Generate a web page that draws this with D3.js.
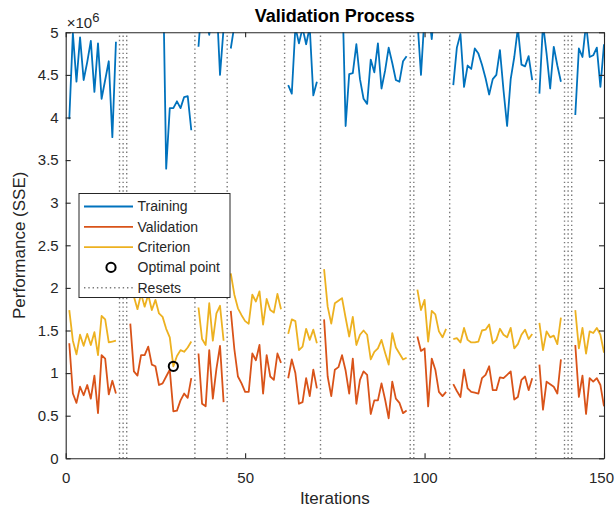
<!DOCTYPE html>
<html>
<head>
<meta charset="utf-8">
<script src="https://cdn.jsdelivr.net/npm/d3@7"></script>
<style>
  html, body { margin: 0; padding: 0; background: #ffffff; }
  svg { display: block; font-family: "Liberation Sans", Arial, Helvetica, sans-serif; }
</style>
</head>
<body>
<svg id="chart" width="615" height="511"></svg>
<script>
// Performance values are in units of 1e6 (SSE / 10^6); null marks an iteration with a reset.
const iterations = d3.range(1, 151);

const training = [
  // 1-14
  3.98, 4.99, 4.42, 4.94, 4.44, 4.65, 4.90, 4.30, 4.87, 4.22, 4.44, 4.66, 3.77, 4.89,
  null, null, null,
  // 18-35
  7.9, 7.1, 6.6, 6.9, 6.4, 6.8, 6.2, 6.5, 6.3, 6.0, 3.40, 4.11, 4.11, 4.19, 4.11, 4.24, 4.25, 3.85,
  null,
  // 37-44
  4.83, 5.4, 5.2, 4.97, 5.3, 5.4, 4.50, 5.05,
  null,
  // 46-60
  4.81, 5.08, 5.6, 5.4, 5.8, 5.5, 5.7, 5.4, 5.9, 5.6, 5.5, 5.8, 5.6, 5.4, 5.7,
  null,
  // 62-70
  4.38, 4.28, 5.06, 4.87, 5.05, 4.86, 5.06, 4.26, 4.42,
  null,
  // 72-95
  6.6, 6.1, 6.3, 5.9, 6.2, 5.65, 3.90, 4.51, 4.52, 4.86, 4.45, 4.22, 4.16, 4.68, 4.53, 4.87, 4.34, 4.55, 4.82, 4.64, 4.44, 4.42, 4.66, 4.72,
  null, null,
  // 98-106
  5.15, 4.50, 5.2, 5.3, 4.92, 5.4, 5.6, 5.3, 5.5,
  null,
  // 108-130
  4.38, 4.82, 4.98, 4.36, 4.61, 4.57, 4.81, 4.75, 4.62, 4.46, 4.27, 4.45, 4.50, 4.79, 4.32, 3.90, 4.45, 4.71, 5.05, 4.62, 4.60, 4.72, 4.44,
  null,
  // 132-138
  4.28, 5.1, 4.75, 4.34, 4.83, 4.61, 4.42,
  null, null, null,
  // 142-150
  4.03, 4.81, 4.71, 5.1, 4.71, 4.73, 4.82, 4.36, 4.86
];

const validation = [
  1.35, 0.76, 0.65, 0.84, 0.74, 0.86, 0.70, 0.97, 0.53, 1.21, 1.17, 0.75, 0.91, 0.76,
  null, null, null,
  1.58, 1.02, 0.97, 1.21, 1.21, 1.31, 1.10, 1.08, 0.86, 0.88, 0.96, 1.04, 0.55, 0.56, 0.68, 0.76, 0.71, 0.94,
  null,
  1.23, 0.64, 0.61, 1.27, 0.70, 1.05, 1.32, 0.66,
  null,
  1.73, 1.28, 0.96, 0.88, 0.78, 0.78, 1.23, 1.15, 1.33, 0.76, 1.21, 0.96, 0.92, 1.23, 1.12,
  null,
  0.94, 1.16, 1.00, 0.64, 0.66, 0.94, 0.73, 1.04, 0.82,
  null,
  1.63, 0.96, 0.73, 1.04, 1.07, 1.21, 1.03, 0.76, 1.17, 0.64, 0.92, 1.02, 0.98, 0.52, 0.68, 0.68, 0.88, 0.69, 0.47, 0.90, 0.70, 0.65, 0.53, 0.56,
  null, null,
  1.43, 1.26, 1.29, 0.61, 1.17, 1.04, 0.78, 0.73, 0.78,
  null,
  0.87, 0.79, 0.72, 1.04, 0.82, 0.78, 0.77, 0.76, 0.94, 0.98, 1.08, 0.80, 0.80, 0.95, 0.94, 0.98, 1.02, 0.69, 0.72, 0.92, 0.96, 0.80, 0.94,
  null,
  1.10, 0.57, 0.90, 0.87, 0.84, 0.76, 1.16,
  null, null, null,
  1.33, 0.72, 0.97, 0.52, 0.94, 0.90, 0.94, 0.86, 0.61
];

const criterion = [
  1.74, 1.38, 1.22, 1.45, 1.32, 1.46, 1.33, 1.48, 1.21, 1.67, 1.63, 1.36, 1.37, 1.38,
  null, null, null,
  2.08, 1.90, 1.75, 1.93, 1.78, 1.92, 1.74, 1.86, 1.70, 1.66, 1.52, 1.42, 1.08, 1.20, 1.27, 1.25, 1.30, 1.37,
  null,
  1.77, 1.40, 1.33, 1.82, 1.38, 1.70, 1.79, 1.38,
  null,
  2.17, 1.92, 1.76, 1.68, 1.61, 1.58, 1.92, 1.84, 1.96, 1.57, 1.87, 1.74, 1.71, 1.93, 1.75,
  null,
  1.46, 1.63, 1.61, 1.27, 1.31, 1.52, 1.39, 1.51, 1.35,
  null,
  2.22, 1.78, 1.58, 1.82, 1.85, 1.88, 1.65, 1.43, 1.66, 1.33, 1.45, 1.50, 1.45, 1.16, 1.25, 1.29, 1.39, 1.24, 1.10, 1.47, 1.30, 1.23, 1.16, 1.18,
  null, null,
  1.98, 1.74, 1.86, 1.37, 1.73, 1.69, 1.49, 1.42, 1.52,
  null,
  1.40, 1.41, 1.36, 1.53, 1.39, 1.36, 1.36, 1.37, 1.50, 1.51, 1.57, 1.35, 1.39, 1.52, 1.45, 1.42, 1.53, 1.29, 1.34, 1.45, 1.51, 1.40, 1.46,
  null,
  1.59, 1.27, 1.49, 1.42, 1.44, 1.34, 1.65,
  null, null, null,
  1.74, 1.29, 1.53, 1.23, 1.49, 1.47, 1.53, 1.45, 1.24
];

const resets = [15, 16, 17, 36, 45, 61, 71, 96, 97, 107, 131, 139, 140, 141];
const optimalIteration = 30;

const xTicks = [0, 50, 100, 150];
const yTicks = [0, 0.5, 1, 1.5, 2, 2.5, 3, 3.5, 4, 4.5, 5];

const seriesNames = ["Training", "Validation", "Criterion"];
const seriesColors = ["#0072BD", "#D95319", "#EDB120"];

// ---- layout ----
const plot = { left: 65.7, right: 604, top: 32.3, bottom: 458.3 };
const axisColor = "#262626";
const textColor = "#262626";
const curveWidth = 1.8;

const svg = d3.select("#chart");

const x = d3.scaleLinear().domain([0, 150]).range([plot.left, plot.right]);
const y = d3.scaleLinear().domain([0, 5]).range([plot.bottom, plot.top]);

svg.append("defs").append("clipPath").attr("id", "plot-clip")
  .append("rect")
  .attr("x", plot.left).attr("y", plot.top)
  .attr("width", plot.right - plot.left).attr("height", plot.bottom - plot.top);

const plotLayer = svg.append("g").attr("clip-path", "url(#plot-clip)");

// reset markers
plotLayer.selectAll("line.reset")
  .data(resets)
  .join("line")
  .attr("class", "reset")
  .attr("x1", d => x(d)).attr("x2", d => x(d))
  .attr("y1", y(0)).attr("y2", y(5))
  .attr("stroke", "#7a7a7a")
  .attr("stroke-width", 1.4)
  .attr("stroke-dasharray", "1.4,2.9");

// performance curves
const line = d3.line()
  .defined(d => d.v != null)
  .x(d => x(d.i))
  .y(d => y(d.v));

[training, validation, criterion].forEach((vals, k) => {
  const pts = iterations.map((i, j) => ({ i, v: vals[j] }));
  plotLayer.append("path")
    .datum(pts)
    .attr("fill", "none")
    .attr("stroke", seriesColors[k])
    .attr("stroke-width", curveWidth)
    .attr("stroke-linejoin", "round")
    .attr("d", line);
});

// optimal point on the criterion curve
svg.append("circle")
  .attr("cx", x(optimalIteration))
  .attr("cy", y(criterion[iterations.indexOf(optimalIteration)]))
  .attr("r", 4.6)
  .attr("fill", "none")
  .attr("stroke", "#000000")
  .attr("stroke-width", 2);

// ---- axes (box with inward ticks) ----
function styleAxis(g) {
  g.selectAll(".domain").attr("stroke", axisColor).attr("stroke-width", 1.1);
  g.selectAll(".tick line").attr("stroke", axisColor).attr("stroke-width", 1.1);
  g.selectAll(".tick text")
    .attr("fill", textColor)
    .style("font-size", "15px");
}

const xAxisG = svg.append("g")
  .attr("transform", `translate(0,${plot.bottom})`)
  .call(d3.axisBottom(x).tickValues(xTicks).tickSizeInner(-5).tickSizeOuter(0).tickPadding(14))
  .call(styleAxis);
// keep the last label inside the canvas
xAxisG.selectAll(".tick text").filter(d => d === 150).attr("dx", -3);

svg.append("g")
  .attr("transform", `translate(${plot.left},0)`)
  .call(d3.axisLeft(y).tickValues(yTicks).tickFormat(d3.format("~g")).tickSizeInner(-5).tickSizeOuter(0).tickPadding(7))
  .call(styleAxis);

svg.append("g")
  .attr("transform", `translate(0,${plot.top})`)
  .call(d3.axisTop(x).tickValues(xTicks).tickSizeInner(-5).tickSizeOuter(0).tickFormat(""))
  .call(styleAxis);

svg.append("g")
  .attr("transform", `translate(${plot.right},0)`)
  .call(d3.axisRight(y).tickValues(yTicks).tickSizeInner(-5).tickSizeOuter(0).tickFormat(""))
  .call(styleAxis);

// exponent label
const expLabel = svg.append("text")
  .attr("x", plot.left + 1)
  .attr("y", 28)
  .attr("fill", textColor)
  .style("font-size", "15px");
expLabel.append("tspan").text("\u00d710");
expLabel.append("tspan").attr("dy", -6).style("font-size", "13px").text("6");

// title and axis labels
svg.append("text")
  .attr("x", (plot.left + plot.right) / 2)
  .attr("y", 22)
  .attr("text-anchor", "middle")
  .attr("fill", "#000000")
  .style("font-size", "18px")
  .style("font-weight", "bold")
  .text("Validation Process");

svg.append("text")
  .attr("x", (plot.left + plot.right) / 2)
  .attr("y", 504)
  .attr("text-anchor", "middle")
  .attr("fill", textColor)
  .style("font-size", "17px")
  .text("Iterations");

svg.append("text")
  .attr("transform", `translate(25,${(plot.top + plot.bottom) / 2}) rotate(-90)`)
  .attr("text-anchor", "middle")
  .attr("fill", textColor)
  .style("font-size", "17px")
  .text("Performance (SSE)");

// ---- legend ----
const legend = svg.append("g").attr("transform", "translate(79,193.5)");
legend.append("rect")
  .attr("width", 151).attr("height", 104)
  .attr("fill", "#ffffff")
  .attr("stroke", axisColor)
  .attr("stroke-width", 1);

const legendItems = [
  { label: seriesNames[0], kind: "line", color: seriesColors[0] },
  { label: seriesNames[1], kind: "line", color: seriesColors[1] },
  { label: seriesNames[2], kind: "line", color: seriesColors[2] },
  { label: "Optimal point", kind: "marker", color: "#000000" },
  { label: "Resets", kind: "dotted", color: "#7a7a7a" }
];

const rows = legend.selectAll("g.item")
  .data(legendItems)
  .join("g")
  .attr("class", "item")
  .attr("transform", (d, i) => `translate(0,${13 + i * 20.3})`);

rows.filter(d => d.kind !== "marker").append("line")
  .attr("x1", 5).attr("x2", 54)
  .attr("stroke", d => d.color)
  .attr("stroke-width", d => d.kind === "dotted" ? 1.4 : curveWidth)
  .attr("stroke-dasharray", d => d.kind === "dotted" ? "1.4,2.9" : null);

rows.filter(d => d.kind === "marker").append("circle")
  .attr("cx", 32).attr("r", 4.6)
  .attr("fill", "none")
  .attr("stroke", "#000000")
  .attr("stroke-width", 2);

rows.append("text")
  .attr("x", 58.5)
  .attr("dy", "0.35em")
  .attr("fill", textColor)
  .style("font-size", "14px")
  .text(d => d.label);
</script>
</body>
</html>
